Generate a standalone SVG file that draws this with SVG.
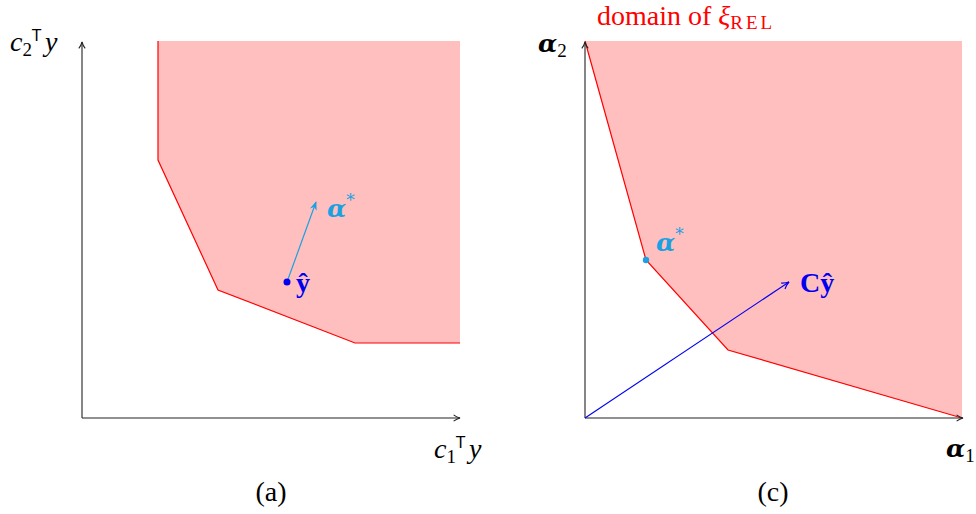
<svg xmlns="http://www.w3.org/2000/svg" width="976" height="514" viewBox="0 0 976 514">
<defs>
<marker id="ah" viewBox="0 0 10 10" refX="9" refY="5" markerWidth="8" markerHeight="8" markerUnits="userSpaceOnUse" orient="auto">
<path d="M1,1 Q5,4 9,5 Q5,6 1,9" fill="none" stroke="#222" stroke-width="1.3"/>
</marker>
<marker id="ahc" viewBox="0 0 10 10" refX="9" refY="5" markerWidth="9" markerHeight="9" markerUnits="userSpaceOnUse" orient="auto">
<path d="M0,1 L10,5 L0,9 L3,5 Z" fill="#1ba1e2"/>
</marker>
<marker id="ahb" viewBox="0 0 10 10" refX="9" refY="5" markerWidth="9" markerHeight="9" markerUnits="userSpaceOnUse" orient="auto">
<path d="M1,1 Q5,4 9,5 Q5,6 1,9" fill="none" stroke="#0000f0" stroke-width="1.3"/>
</marker>
</defs>

<g id="panel-a">
<polygon points="158,41 158,160 218,290 355,343 460,343 460,41" fill="#ffbfbf"/>
<polyline points="158,41 158,160 218,290 355,343 460,343" fill="none" stroke="#f00" stroke-width="1.2"/>
<g id="axes-a" stroke="#222" stroke-width="1.1" fill="none">
<line x1="82" y1="418" x2="82" y2="42" marker-end="url(#ah)"/>
<line x1="82" y1="418" x2="460" y2="418" marker-end="url(#ah)"/>
</g>
<g id="label-c2">
<text x="10" y="51" style="font-family:'Liberation Serif';font-size:28px;font-style:italic" fill="#000">c<tspan style="font-size:19px;font-style:normal" dy="5">2</tspan><tspan style="font-size:15px;font-style:normal;font-family:'DejaVu Sans'" dy="-15">T</tspan><tspan dy="10" dx="4">y</tspan></text>
</g>
<g id="label-c1">
<text x="434" y="458" style="font-family:'Liberation Serif';font-size:28px;font-style:italic" fill="#000">c<tspan style="font-size:19px;font-style:normal" dy="5">1</tspan><tspan style="font-size:15px;font-style:normal;font-family:'DejaVu Sans'" dy="-15">T</tspan><tspan dy="10" dx="4">y</tspan></text>
</g>
<g id="yhat-a">
<line x1="287" y1="282" x2="316" y2="202" stroke="#1ba1e2" stroke-width="1.2" marker-end="url(#ahc)"/>
<circle cx="287" cy="282" r="3.5" fill="#0000f0"/>
<text x="296" y="292" style="font-family:'Liberation Serif';font-size:28px;font-weight:bold" fill="#0000f0">ŷ</text>
<text x="327" y="217" style="font-family:'DejaVu Serif';font-size:25px;font-weight:bold;font-style:italic" fill="#1ba1e2">α<tspan style="font-size:17px;font-weight:normal;font-style:normal" dy="-11">*</tspan></text>
</g>
<text x="271" y="501" style="font-family:'Liberation Serif';font-size:28px" text-anchor="middle" fill="#000">(a)</text>
</g>

<g id="panel-c">
<polygon points="585,41 646,260 728,350 962,418 962,41" fill="#ffbfbf"/>
<polyline points="585,41 646,260 728,350 962,418" fill="none" stroke="#f00" stroke-width="1.2"/>
<g id="axes-c" stroke="#222" stroke-width="1.1" fill="none">
<line x1="585" y1="418" x2="585" y2="42" marker-end="url(#ah)"/>
<line x1="585" y1="418" x2="963" y2="418" marker-end="url(#ah)"/>
</g>
<text x="597" y="25" style="font-family:'Liberation Serif';font-size:28px" fill="#f00">domain of <tspan style="font-style:italic">ξ</tspan><tspan style="font-size:19px;letter-spacing:3px" dy="4">REL</tspan></text>
<text x="538" y="52" style="font-family:'DejaVu Serif';font-size:25px;font-weight:bold;font-style:italic" fill="#000">α<tspan style="font-size:19px;font-weight:normal;font-style:normal;font-family:'Liberation Serif'" dy="5">2</tspan></text>
<text x="946" y="457" style="font-family:'DejaVu Serif';font-size:25px;font-weight:bold;font-style:italic" fill="#000">α<tspan style="font-size:19px;font-weight:normal;font-style:normal;font-family:'Liberation Serif'" dy="5">1</tspan></text>
<g id="connectors-c">
<line x1="585" y1="418" x2="789" y2="282" stroke="#0000f0" stroke-width="1.1" marker-end="url(#ahb)"/>
</g>
<g id="alpha-star-c">
<circle cx="646" cy="260" r="3.2" fill="#1ba1e2"/>
<text x="656" y="251" style="font-family:'DejaVu Serif';font-size:25px;font-weight:bold;font-style:italic" fill="#1ba1e2">α<tspan style="font-size:17px;font-weight:normal;font-style:normal" dy="-11">*</tspan></text>
</g>
<g id="cyhat">
<text x="800" y="292" style="font-family:'Liberation Serif';font-size:28px;font-weight:bold" fill="#0000f0">Cŷ</text>
</g>
<text x="773" y="501" style="font-family:'Liberation Serif';font-size:28px" text-anchor="middle" fill="#000">(c)</text>
</g>
</svg>
